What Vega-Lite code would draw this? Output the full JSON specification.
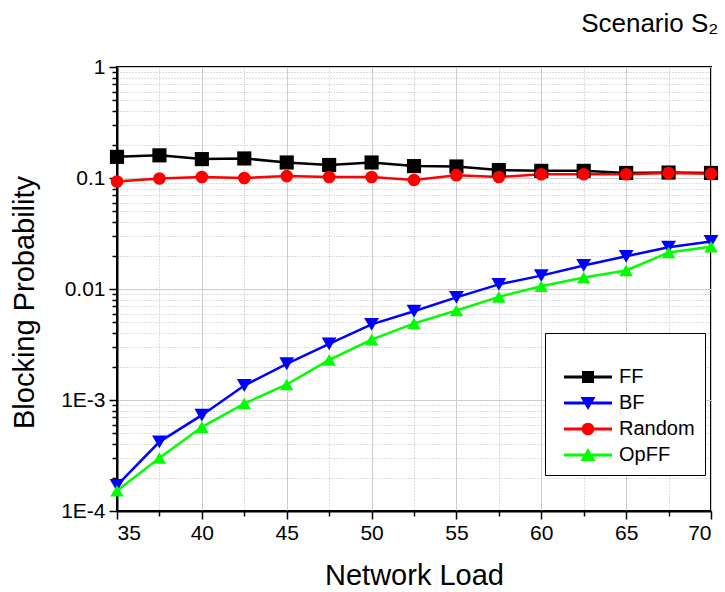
{
  "$schema": "https://vega.github.io/schema/vega-lite/v6.json",
  "width": 594,
  "height": 444,
  "autosize": {"type": "none"},
  "padding": {"left": 117, "top": 67, "right": 14, "bottom": 81},
  "background": "white",
  "title": {"text": "Scenario S₂", "anchor": "end", "offset": 19, "fontSize": 26, "font": "Liberation Sans", "fontWeight": "normal", "color": "black"},
  "data": {"values": [
    {"load": 35, "series": "FF", "value": 0.155},
    {"load": 37.5, "series": "FF", "value": 0.16},
    {"load": 40, "series": "FF", "value": 0.148},
    {"load": 42.5, "series": "FF", "value": 0.15},
    {"load": 45, "series": "FF", "value": 0.138},
    {"load": 47.5, "series": "FF", "value": 0.131},
    {"load": 50, "series": "FF", "value": 0.138},
    {"load": 52.5, "series": "FF", "value": 0.128},
    {"load": 55, "series": "FF", "value": 0.127},
    {"load": 57.5, "series": "FF", "value": 0.118},
    {"load": 60, "series": "FF", "value": 0.116},
    {"load": 62.5, "series": "FF", "value": 0.116},
    {"load": 65, "series": "FF", "value": 0.111},
    {"load": 67.5, "series": "FF", "value": 0.112},
    {"load": 70, "series": "FF", "value": 0.111},
    {"load": 35, "series": "BF", "value": 0.00017},
    {"load": 37.5, "series": "BF", "value": 0.00042},
    {"load": 40, "series": "BF", "value": 0.00073},
    {"load": 42.5, "series": "BF", "value": 0.00135},
    {"load": 45, "series": "BF", "value": 0.00212},
    {"load": 47.5, "series": "BF", "value": 0.0032},
    {"load": 50, "series": "BF", "value": 0.0048},
    {"load": 52.5, "series": "BF", "value": 0.0063},
    {"load": 55, "series": "BF", "value": 0.0084},
    {"load": 57.5, "series": "BF", "value": 0.011},
    {"load": 60, "series": "BF", "value": 0.0132},
    {"load": 62.5, "series": "BF", "value": 0.0163},
    {"load": 65, "series": "BF", "value": 0.0197},
    {"load": 67.5, "series": "BF", "value": 0.0238},
    {"load": 70, "series": "BF", "value": 0.0268},
    {"load": 35, "series": "Random", "value": 0.093},
    {"load": 37.5, "series": "Random", "value": 0.099},
    {"load": 40, "series": "Random", "value": 0.102},
    {"load": 42.5, "series": "Random", "value": 0.1},
    {"load": 45, "series": "Random", "value": 0.104},
    {"load": 47.5, "series": "Random", "value": 0.102},
    {"load": 50, "series": "Random", "value": 0.102},
    {"load": 52.5, "series": "Random", "value": 0.096},
    {"load": 55, "series": "Random", "value": 0.106},
    {"load": 57.5, "series": "Random", "value": 0.102},
    {"load": 60, "series": "Random", "value": 0.108},
    {"load": 62.5, "series": "Random", "value": 0.108},
    {"load": 65, "series": "Random", "value": 0.108},
    {"load": 67.5, "series": "Random", "value": 0.111},
    {"load": 70, "series": "Random", "value": 0.109},
    {"load": 35, "series": "OpFF", "value": 0.000152},
    {"load": 37.5, "series": "OpFF", "value": 0.0003},
    {"load": 40, "series": "OpFF", "value": 0.00057},
    {"load": 42.5, "series": "OpFF", "value": 0.00093},
    {"load": 45, "series": "OpFF", "value": 0.00138},
    {"load": 47.5, "series": "OpFF", "value": 0.0023},
    {"load": 50, "series": "OpFF", "value": 0.0035},
    {"load": 52.5, "series": "OpFF", "value": 0.0049},
    {"load": 55, "series": "OpFF", "value": 0.0064},
    {"load": 57.5, "series": "OpFF", "value": 0.0085},
    {"load": 60, "series": "OpFF", "value": 0.0106},
    {"load": 62.5, "series": "OpFF", "value": 0.0127},
    {"load": 65, "series": "OpFF", "value": 0.0147},
    {"load": 67.5, "series": "OpFF", "value": 0.0213},
    {"load": 70, "series": "OpFF", "value": 0.024}
  ]},
  "layer": [
    {
      "mark": {"type": "point", "opacity": 0},
      "encoding": {
        "x": {"field": "load", "type": "quantitative", "scale": {"domain": [35, 70], "nice": false, "zero": false},
          "axis": {"orient": "bottom", "values": [37.5, 42.5, 47.5, 52.5, 57.5, 62.5, 67.5], "labels": false, "domain": false, "tickSize": 5, "grid": true, "gridDash": [1, 2], "gridColor": "#bbbbbb", "title": null}},
        "y": {"field": "value", "type": "quantitative", "scale": {"type": "log", "domain": [0.0001, 1], "nice": false},
          "axis": {"orient": "left", "values": [0.0002, 0.0003, 0.0004, 0.0005, 0.0006, 0.0007, 0.0008, 0.0009, 0.002, 0.003, 0.004, 0.005, 0.006, 0.007, 0.008, 0.009, 0.02, 0.03, 0.04, 0.05, 0.06, 0.07, 0.08, 0.09, 0.2, 0.3, 0.4, 0.5, 0.6, 0.7, 0.8, 0.9], "labels": false, "domain": false, "tickSize": 5, "grid": true, "gridDash": [1, 2], "gridColor": "#bbbbbb", "title": null}}
      }
    },
    {
      "mark": {"type": "line", "strokeWidth": 2.5},
      "encoding": {
        "x": {"field": "load", "type": "quantitative",
          "axis": {"orient": "bottom", "values": [35, 40, 45, 50, 55, 60, 65, 70], "format": "d", "title": "Network Load", "titleFontSize": 29, "grid": true, "gridColor": "#cccccc", "labelPadding": 3, "titlePadding": 18}},
        "y": {"field": "value", "type": "quantitative",
          "axis": {"orient": "left", "values": [0.0001, 0.001, 0.01, 0.1, 1], "labelExpr": "datum.value == 1 ? '1' : datum.value == 0.1 ? '0.1' : datum.value == 0.01 ? '0.01' : datum.value == 0.001 ? '1E-3' : '1E-4'", "title": "Blocking Probability", "titleFontSize": 29, "titleY": 235, "grid": true, "gridColor": "#cccccc", "labelPadding": 4, "titlePadding": 21}},
        "stroke": {"field": "series", "type": "nominal", "scale": {"domain": ["BF", "FF", "OpFF", "Random"], "range": ["#0000ff", "#000000", "#00ff00", "#ff0000"]}, "legend": null}
      }
    },
    {
      "mark": {"type": "point", "filled": true, "opacity": 1, "strokeWidth": 0},
      "encoding": {
        "x": {"field": "load", "type": "quantitative", "axis": null},
        "y": {"field": "value", "type": "quantitative", "axis": null},
        "color": {"field": "series", "type": "nominal", "scale": {"domain": ["FF", "BF", "Random", "OpFF"], "range": ["#000000", "#0000ff", "#ff0000", "#00ff00"]},
          "legend": {"title": " ", "orient": "none", "legendX": 428, "legendY": 266,
            "encoding": {"symbols": {"shape": {"value": {"signal": "datum.value === 'FF' ? 'M-4,-0.25H4V0.25H-4Z M-1,-1H1V1H-1Z' : datum.value === 'BF' ? 'M-4,-0.25H4V0.25H-4Z M-1.25,-1L1.25,-1L0,1.15Z' : datum.value === 'Random' ? 'M-4,-0.25H4V0.25H-4Z M-1.05,0A1.05,1.05 0 1,1 1.05,0A1.05,1.05 0 1,1 -1.05,0Z' : 'M-4,-0.25H4V0.25H-4Z M-1.25,1L0,-1.15L1.25,1Z'"}}, "strokeWidth": {"value": 0}, "opacity": {"value": 1}}}}},
        "shape": {"field": "series", "type": "nominal", "scale": {"domain": ["BF", "FF", "OpFF", "Random"], "range": ["triangle-down", "square", "triangle-up", "circle"]}, "legend": null},
        "size": {"field": "series", "type": "nominal", "scale": {"domain": ["BF", "FF", "OpFF", "Random"], "range": [220, 160, 220, 170]}, "legend": null}
      }
    }
  ],
  "resolve": {"axis": {"x": "independent", "y": "independent"}},
  "config": {
    "view": {"stroke": "black", "strokeWidth": 2},
    "axis": {
      "labelFont": "Liberation Sans", "labelFontSize": 21, "labelColor": "black",
      "titleFont": "Liberation Sans", "titleFontSize": 26, "titleFontWeight": "normal", "titleColor": "black",
      "domainColor": "black", "domainWidth": 2, "tickColor": "black", "tickWidth": 1.5, "tickSize": 8
    },
    "legend": {
      "titleFontSize": 14, "titlePadding": 10,
      "labelFont": "Liberation Sans", "labelFontSize": 20, "labelColor": "black",
      "padding": 10, "strokeColor": "black", "fillColor": "white",
      "rowPadding": 6, "symbolOffset": 23, "labelOffset": 21, "symbolSize": 144
    }
  }
}
